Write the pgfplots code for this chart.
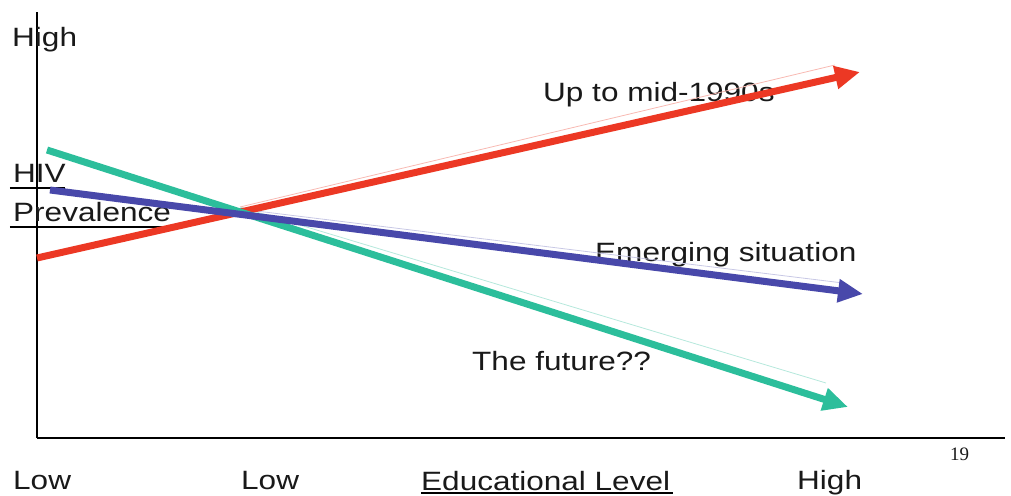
\documentclass[border=0pt]{standalone}
\usepackage{pgfplots}
\pgfplotsset{compat=1.18}
\usetikzlibrary{arrows.meta}
\usepackage{fontspec}
\setmainfont{Liberation Sans}[FakeStretch=1.19]
\newfontfamily\pagenum{Liberation Serif}

\definecolor{upred}{RGB}{236,56,36}
\definecolor{futgreen}{RGB}{44,190,155}
\definecolor{emblue}{RGB}{72,72,170}

\tikzset{lab/.style={anchor=base west, inner sep=0pt, text=black!90,
    font=\fontsize{26.5}{30}\selectfont}}

\begin{document}
\begin{tikzpicture}[x=1pt,y=1pt]
  % canvas in pixel units (y measured upwards)
  \path[use as bounding box] (0,0) rectangle (1011,495);
  \begin{axis}[
      at={(37pt,57pt)}, anchor=south west,
      scale only axis, width=968pt, height=426pt,
      xmin=37, xmax=1005, ymin=57, ymax=483,
      axis x line=bottom, axis y line=left,
      axis line style={-, line width=1.6pt, black},
      xtick=\empty, ytick=\empty,
      clip=false,
    ]
    % labels
    \node[lab] at (axis cs:12,448) {High};
    \node[lab] at (axis cs:13,312) {HIV};
    \node[lab] at (axis cs:13,273) {Prevalence};
    \draw[line width=1.5pt] (axis cs:10,307) -- (axis cs:65,307);
    \draw[line width=1.5pt] (axis cs:10,268) -- (axis cs:164,268);
    \node[lab] at (axis cs:543,393) {Up to mid-1990s};
    \node[lab] at (axis cs:595,233) {Emerging situation};
    \node[lab] at (axis cs:472,124) {The future??};
    \node[lab] at (axis cs:13,6) {Low};
    \node[lab] at (axis cs:241,6) {Low};
    \node[lab] at (axis cs:421,5) {Educational Level};
    \draw[line width=1.3pt] (axis cs:421,2) -- (axis cs:673,2);
    \node[lab] at (axis cs:797,6) {High};
    \node[lab, font=\pagenum\fontsize{19}{22}\selectfont] at (axis cs:950,35) {19};

    % faint highlight lines
    \addplot[upred!35, line width=0.8pt] coordinates {(240,288) (835,430)};
    \addplot[emblue!30, line width=0.8pt] coordinates {(240,286) (843,212)};
    \addplot[futgreen!35, line width=0.8pt] coordinates {(240,288) (826,112)};

    % trends
    \addplot[upred, line width=7pt, -{Triangle[length=25pt,width=22pt]}]
      coordinates {(37,237) (860,423)};
    \addplot[futgreen, line width=7pt, -{Triangle[length=25pt,width=22pt]}]
      coordinates {(47,345) (848,88)};
    \addplot[emblue, line width=7pt, -{Triangle[length=25pt,width=22pt]}]
      coordinates {(50,305) (863,201)};
  \end{axis}
\end{tikzpicture}
\end{document}
